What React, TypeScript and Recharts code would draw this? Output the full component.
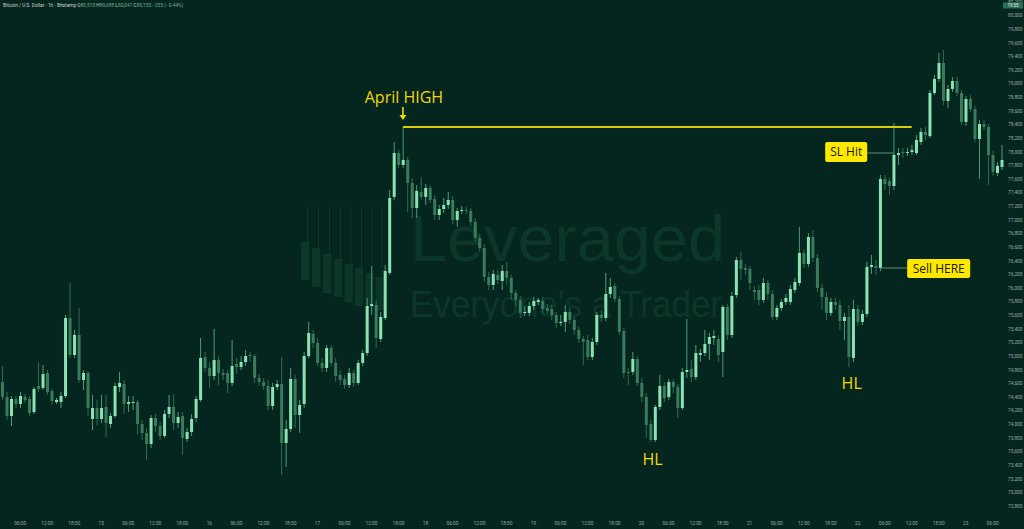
import React from 'react';
import { ComposedChart, Bar, XAxis, YAxis, ReferenceLine, ReferenceDot } from 'recharts';

const W = 1024;
const H = 529;
const BG = '#05261f';
const UP = '#89e3b3';
const DOWN = '#3a7a5d';
const UP_WICK = '#4e9a79';
const DOWN_WICK = '#2f6a52';
const AXIS_TEXT = '#9aa6a1';
const YELLOW = '#f2d60a';
const WATERMARK = '#0d362a';

// Bitstamp BTC/USD, 1h candles, first one is the 14th at 02:00
const firstDay = 14;
const firstHour = 2;

const opens = [
  74623, 74403, 74124, 74373, 74300, 74403, 74373, 74182, 74564, 74535,
  74755, 74491, 74329, 74329, 74417, 75562, 75019, 75313, 74652, 74755,
  74080, 74241, 74080, 74256, 74006, 74124, 74549, 74593, 74300, 74315,
  74329, 74006, 73874, 73713, 74094, 73977, 73830, 74153, 74256, 74021,
  74124, 73786, 73889, 74094, 74359, 74990, 74828, 74711, 74946, 74755,
  74755, 74608, 74887, 74843, 74916, 75019, 75004, 74682, 74623, 74564,
  74270, 74549, 74593, 73727, 73933, 74667, 74138, 74300, 75004, 75327,
  75195, 74902, 74828, 75122, 74902, 74726, 74667, 74579, 74755, 74608,
  74902, 75048, 75738, 75753, 75254, 75562, 76223, 77339, 77984, 77808,
  77882, 77544, 77177, 77412, 77339, 77471, 77309, 77074, 77162, 77221,
  77295, 77001, 77133, 77148, 77133, 76972, 76737, 76590, 76164, 76047,
  76194, 76105, 76252, 76150, 75929, 75827, 75636, 75636, 75738, 75797,
  75812, 75709, 75694, 75606, 75489, 75504, 75650, 75533, 75386, 75254,
  75239, 74990, 75210, 75606, 75562, 75915, 76032, 75841, 75371, 74770,
  74770, 74960, 74608, 74403, 74006, 73771, 74256, 74564, 74403, 74623,
  74549, 74241, 74770, 74814, 74696, 75019, 75048, 75181, 75269, 75254,
  75063, 75724, 75313, 75900, 76414, 76296, 76282, 75973, 75973, 75827,
  76076, 75915, 75577, 75709, 75797, 75797, 75973, 76076, 76517, 76355,
  76751, 76443, 76003, 75871, 75636, 75797, 75753, 75518, 75577, 74975,
  75694, 75504, 75621, 76311, 76326, 76296, 77603, 77573, 77500, 77955,
  77999, 77984, 77999, 77984, 78146, 78293, 78234, 78865, 79071, 79306,
  78748, 78924, 79041, 78865, 78440, 78777, 78630, 78190, 78410, 78366,
  77955, 77691, 77779,
];

const highs = [
  74858, 74476, 74417, 74417, 74476, 74447, 74417, 74549, 74916, 74872,
  74799, 74520, 74388, 74476, 75606, 76076, 75386, 75709, 74799, 74784,
  74432, 74359, 74432, 74432, 74168, 74608, 74770, 74652, 74417, 74417,
  74359, 74065, 73948, 74138, 74153, 74036, 74212, 74432, 74447, 74182,
  74182, 73948, 74153, 74417, 75269, 75063, 74916, 75401, 75004, 74814,
  74799, 75239, 74975, 75004, 75093, 75063, 75034, 74740, 74682, 74652,
  74608, 74652, 74990, 74065, 74828, 74726, 74359, 75063, 75504, 75386,
  75269, 74975, 75166, 75166, 74975, 74799, 74726, 74828, 74799, 74946,
  75093, 75856, 76326, 75827, 75650, 76340, 77441, 78146, 78029, 78366,
  77926, 77618, 77515, 77632, 77529, 77515, 77368, 77221, 77324, 77412,
  77353, 77177, 77206, 77192, 77177, 77030, 76795, 76649, 76238, 76267,
  76267, 76340, 76384, 76194, 75973, 75885, 75738, 75797, 75871, 75856,
  75871, 75768, 75753, 75650, 75606, 75753, 75709, 75577, 75430, 75298,
  75313, 75269, 75650, 75680, 76223, 76150, 76076, 75885, 75415, 74828,
  75063, 75004, 74682, 74461, 74065, 74285, 74726, 74623, 74667, 74667,
  74593, 74828, 75548, 74946, 75166, 75107, 75386, 75342, 75386, 75313,
  75753, 75768, 75944, 76458, 76531, 76355, 76326, 76032, 76047, 76150,
  76120, 75973, 75753, 75841, 75915, 76047, 76150, 76898, 76575, 76810,
  76854, 76502, 76061, 75944, 75856, 75856, 75827, 75636, 75753, 75827,
  75753, 75680, 76384, 76487, 76414, 77661, 77661, 77618, 78425, 78058,
  78058, 78058, 78102, 78249, 78351, 78366, 78909, 79130, 79452, 79496,
  78983, 79100, 79100, 78909, 78821, 78836, 78674, 78469, 78469, 78410,
  78014, 77852, 78102,
];

const lows = [
  74359, 74065, 73977, 74241, 74241, 74315, 74124, 74153, 74476, 74505,
  74432, 74285, 74300, 74241, 74388, 74975, 74975, 74608, 74505, 74124,
  73918, 73992, 74021, 73815, 73948, 74094, 74476, 74153, 74182, 74212,
  73859, 73771, 73478, 73654, 73889, 73771, 73801, 74094, 73918, 73948,
  73551, 73742, 73830, 74036, 74329, 74770, 74535, 74652, 74579, 74652,
  74461, 74564, 74740, 74799, 74858, 74916, 74608, 74564, 74505, 74212,
  74212, 74505, 73258, 73375, 73889, 73948, 73874, 74241, 74975, 75122,
  74858, 74770, 74770, 74858, 74623, 74579, 74520, 74535, 74549, 74579,
  74858, 75004, 75606, 75122, 75210, 75533, 76194, 77295, 77764, 77764,
  77118, 77030, 77030, 77295, 77221, 77250, 77001, 77001, 77104, 77162,
  76942, 76898, 77089, 77089, 76913, 76678, 76531, 76091, 75973, 75973,
  76061, 75973, 76047, 75827, 75738, 75562, 75592, 75592, 75680, 75753,
  75621, 75621, 75533, 75415, 75445, 75357, 75474, 75313, 75195, 74872,
  74946, 74946, 75166, 75504, 75518, 75856, 75797, 75313, 74682, 74579,
  74726, 74564, 74329, 73801, 73742, 73742, 74212, 74329, 74359, 74461,
  74094, 74212, 74682, 74623, 74652, 74916, 75004, 74946, 75166, 74916,
  74696, 75239, 75269, 75856, 76120, 76194, 75973, 75827, 75753, 75783,
  75827, 75533, 75533, 75665, 75753, 75753, 75929, 76032, 76296, 76311,
  76384, 75944, 75680, 75533, 75592, 75680, 75386, 75239, 74843, 74916,
  75445, 75459, 75577, 76208, 76194, 76252, 77441, 77368, 77441, 77808,
  77911, 77940, 77955, 77955, 78102, 78175, 78205, 78836, 79027, 78689,
  78645, 78880, 78821, 78395, 78381, 78586, 78146, 77603, 78322, 77515,
  77647, 77647, 77735,
];

const closes = [
  74403, 74124, 74373, 74300, 74417, 74359, 74168, 74520, 74520, 74740,
  74476, 74344, 74359, 74417, 75562, 75019, 75313, 74652, 74755, 74241,
  74241, 74080, 74241, 74021, 74124, 74564, 74608, 74300, 74329, 74329,
  74006, 73874, 73713, 74094, 73977, 73830, 74153, 74256, 74021, 74109,
  73801, 73889, 74080, 74373, 74975, 74828, 74711, 74946, 74755, 74726,
  74608, 74858, 74843, 74916, 75004, 75004, 74682, 74623, 74564, 74270,
  74549, 74593, 73727, 73933, 74667, 74138, 74285, 75004, 75342, 75195,
  74902, 74828, 75122, 74902, 74711, 74652, 74579, 74755, 74608, 74902,
  75048, 75738, 75768, 75269, 75577, 76252, 77324, 77984, 77808, 77882,
  77544, 77177, 77427, 77339, 77471, 77295, 77074, 77162, 77221, 77295,
  77001, 77133, 77148, 77133, 76972, 76737, 76590, 76164, 76047, 76208,
  76120, 76252, 76150, 75929, 75827, 75636, 75650, 75738, 75812, 75827,
  75694, 75665, 75606, 75489, 75504, 75650, 75533, 75386, 75254, 75210,
  74990, 75210, 75606, 75562, 75915, 76017, 75841, 75357, 74755, 74755,
  74960, 74608, 74403, 73992, 73771, 74256, 74564, 74388, 74623, 74549,
  74241, 74770, 74799, 74696, 75048, 75048, 75181, 75283, 75298, 75019,
  75724, 75313, 75885, 76414, 76282, 76267, 76076, 75944, 75827, 76076,
  75915, 75577, 75709, 75797, 75856, 75988, 76091, 76517, 76355, 76751,
  76443, 76003, 75871, 75636, 75797, 75753, 75518, 75577, 74990, 75694,
  75504, 75621, 76311, 76340, 76296, 77603, 77529, 77500, 77955, 77984,
  77984, 77999, 78029, 78175, 78293, 78249, 78865, 79071, 79306, 78748,
  78924, 79041, 78865, 78440, 78777, 78630, 78190, 78410, 78366, 77955,
  77706, 77794, 77882,
];

const priceTicks = [
  72800, 73000, 73200, 73400, 73600, 73800, 74000, 74200, 74400, 74600,
  74800, 75000, 75200, 75400, 75600, 75800, 76000, 76200, 76400, 76600,
  76800, 77000, 77200, 77400, 77600, 77800, 78000, 78200, 78400, 78600,
  78800, 79000, 79200, 79400, 79600, 79800, 80000, 80200,
];

const aprilHigh = 78366;

const data = opens.map((open, i) => {
  const h = firstHour + i;
  const day = firstDay + Math.floor(h / 24);
  const hour = h % 24;
  return {
    t: `${day} ${String(hour).padStart(2, '0')}:00`,
    day,
    hour,
    open,
    high: highs[i],
    low: lows[i],
    close: closes[i],
  };
});

const Candle = (props: any) => {
  const { x, y, width, height } = props;
  const d = props.payload || props;
  if (x == null || y == null) return <g />;
  const top = height < 0 ? y + height : y;
  const h = Math.abs(height);
  const up = d.close >= d.open;
  const k = d.high === d.low ? 0 : h / (d.high - d.low);
  const bodyTop = top + (d.high - Math.max(d.open, d.close)) * k;
  const bodyH = Math.max(1, Math.abs(d.open - d.close) * k);
  const cx = x + width / 2;
  return (
    <g>
      <line x1={cx} x2={cx} y1={top} y2={top + h} stroke={up ? UP_WICK : DOWN_WICK} strokeWidth={1} />
      <rect x={x} y={bodyTop} width={width} height={bodyH} fill={up ? UP : DOWN} />
    </g>
  );
};

const TimeTick = (props: any) => {
  const { x, payload } = props;
  const d = data[payload?.index ?? props.index];
  if (!d || d.hour % 6 !== 0) return <g />;
  const label = d.hour === 0 ? String(d.day) : `${String(d.hour).padStart(2, '0')}:00`;
  return (
    <text x={x} y={525} textAnchor="middle" fontSize={4.8} fill={AXIS_TEXT} fontFamily="Roboto, sans-serif">
      {label}
    </text>
  );
};

const PriceTick = (props: any) => {
  const { y, payload } = props;
  return (
    <text x={W - 1.5} y={y} dy={1.7} textAnchor="end" fontSize={4.8} fill={AXIS_TEXT} fontFamily="Roboto, sans-serif">
      {Number(payload.value).toLocaleString('en-US')}
    </text>
  );
};

const labelFont = '"Open Sans", "Noto Sans", sans-serif';

const HighMark = (props: any) => {
  const { cx, cy } = props;
  return (
    <g>
      <text x={cx + 1} y={cy - 24} textAnchor="middle" fontSize={16} fill={YELLOW} fontFamily={labelFont}>
        April HIGH
      </text>
      <line x1={cx} x2={cx} y1={cy - 20} y2={cy - 11} stroke={YELLOW} strokeWidth={1.6} />
      <path d={`M${cx - 3.5},${cy - 12} L${cx + 3.5},${cy - 12} L${cx},${cy - 7} Z`} fill={YELLOW} />
    </g>
  );
};

const HLMark = (dx: number, dy: number) => (props: any) => {
  const { cx, cy } = props;
  return (
    <text x={cx + dx} y={cy + dy} textAnchor="middle" fontSize={16} fill={YELLOW} fontFamily={labelFont}>
      HL
    </text>
  );
};

const BoxMark = (text: string, left: number, right: number, up: number, down: number) => (props: any) => {
  const { cx, cy } = props;
  const bx = cx + left;
  const bw = right - left;
  const lineFrom = left < 0 ? cx + right : cx;
  const lineTo = left < 0 ? cx : cx + left;
  return (
    <g>
      <line x1={lineFrom} x2={lineTo} y1={cy} y2={cy} stroke="#5e8f7a" strokeWidth={1} />
      <rect x={bx} y={cy - up} width={bw} height={up + down} rx={2} fill="#fde800" />
      <text x={bx + bw / 2} y={cy + (down - up) / 2 + 4.2} textAnchor="middle" fontSize={12} fill="#1b1b05" fontFamily={labelFont}>
        {text}
      </text>
    </g>
  );
};

const logoCols = [
  { x: 301, top: 242, bottom: 280 },
  { x: 312, top: 248, bottom: 287 },
  { x: 323, top: 254, bottom: 293 },
  { x: 334, top: 259, bottom: 297 },
  { x: 344.5, top: 264, bottom: 302 },
  { x: 355, top: 268, bottom: 306 },
  { x: 365.5, top: 273, bottom: 308 },
  { x: 375.5, top: 277, bottom: 310 },
];

export default function App() {
  return (
    <div style={{ position: 'relative', width: W, height: H, background: BG, overflow: 'hidden' }}>
      <style>{'body{margin:0}'}</style>
      <svg width={W} height={H} style={{ position: 'absolute', left: 0, top: 0 }}>
        {logoCols.map((c, i) => (
          <g key={i}>
            <line x1={c.x + 6.5} x2={c.x + 6.5} y1={206} y2={c.top} stroke={WATERMARK} strokeWidth={1} />
            <rect x={c.x} y={c.top} width={8.3} height={c.bottom - c.top} fill={WATERMARK} />
          </g>
        ))}
        <text x={410} y={261} fontSize={64} fill={WATERMARK} fontFamily="Liberation Sans, Arial, sans-serif" textLength={315} lengthAdjust="spacingAndGlyphs">
          Leveraged
        </text>
        <text x={410} y={317} fontSize={37} fill={WATERMARK} fontFamily="Liberation Sans, Arial, sans-serif" textLength={312} lengthAdjust="spacingAndGlyphs">
          Everyone's a Trader
        </text>
      </svg>
      <div style={{ position: 'absolute', left: 0, top: 0 }}>
        <ComposedChart width={W} height={H} data={data} margin={{ top: 0, right: 0, bottom: 0, left: 0 }}>
          <XAxis dataKey="t" interval={0} height={14} tickLine={false} axisLine={false} tick={<TimeTick />} />
          <YAxis
            orientation="right"
            width={20}
            type="number"
            domain={[72670, 80230]}
            allowDataOverflow
            ticks={priceTicks}
            interval={0}
            tickLine={false}
            axisLine={false}
            tick={<PriceTick />}
          />
          <Bar dataKey={(d: any) => [d.low, d.high]} barSize={3} shape={<Candle />} isAnimationActive={false} />
          <ReferenceLine
            segment={[{ x: data[89].t, y: aprilHigh }, { x: data[202].t, y: aprilHigh }]}
            stroke="#d9cd06"
            strokeWidth={2}
          />
          <ReferenceDot x={data[89].t} y={aprilHigh} shape={HighMark} />
          <ReferenceDot x={data[144].t} y={lows[144]} shape={HLMark(2, 23)} />
          <ReferenceDot x={data[188].t} y={lows[188]} shape={HLMark(3, 22)} />
          <ReferenceDot x={data[198].t} y={closes[199]} shape={BoxMark('SL Hit', -68.5, -26.5, 11, 9)} />
          <ReferenceDot x={data[195].t} y={opens[195]} shape={BoxMark('Sell HERE', 27, 90, 9, 10)} />
        </ComposedChart>
      </div>
      <svg width={W} height={H} style={{ position: 'absolute', left: 0, top: 0, pointerEvents: 'none' }}>
        <text x={3} y={6.5} fontSize={4.8} fontFamily="Roboto, sans-serif">
          <tspan fill="#c9d3cf">Bitcoin / U.S. Dollar · 1h · Bitstamp  </tspan>
          <tspan fill="#c9d3cf">O</tspan><tspan fill="#6fae92">80,510 </tspan>
          <tspan fill="#c9d3cf">H</tspan><tspan fill="#6fae92">80,688 </tspan>
          <tspan fill="#c9d3cf">L</tspan><tspan fill="#6fae92">80,041 </tspan>
          <tspan fill="#c9d3cf">C</tspan><tspan fill="#6fae92">80,155 −355 (−0.44%)</tspan>
        </text>
        <rect x={1003} y={2.5} width={20} height={6} fill="#2b6e53" />
        <text x={1013} y={7.2} textAnchor="middle" fontSize={4.5} fill="#e3efe9" fontFamily="Roboto, sans-serif">
          19:55
        </text>
      </svg>
    </div>
  );
}
